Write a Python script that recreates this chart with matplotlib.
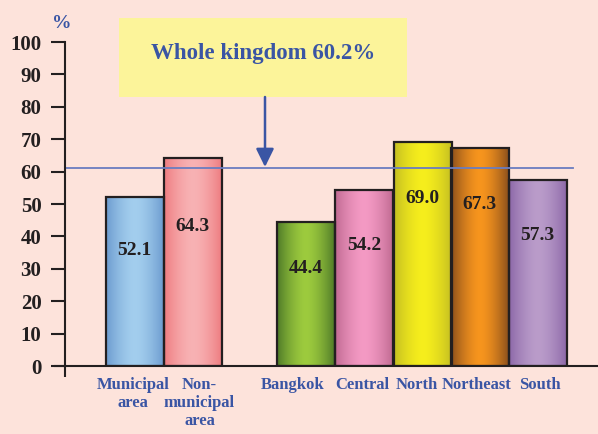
import numpy as np
import matplotlib
matplotlib.use("Agg")
import matplotlib.pyplot as plt
from matplotlib.patches import Rectangle, FancyArrowPatch
from matplotlib.colors import to_rgb

# ---- data ----
categories = ["Municipal\narea", "Non-\nmunicipal\narea", "Bangkok", "Central", "North", "Northeast", "South"]
values = [52.1, 64.3, 44.4, 54.2, 69.0, 67.3, 57.3]
whole_kingdom = 60.2
whole_kingdom_line = 61.2   # where the reference draws the line
y_ticks = [0, 10, 20, 30, 40, 50, 60, 70, 80, 90, 100]

# ---- style ----
positions = [1.2, 2.2, 4.15, 5.16, 6.17, 7.15, 8.15]
label_shift = [-0.03, 0.12, -0.22, -0.03, -0.1, -0.05, 0.03]
label_drop = [16.6, 21.3, 14.2, 16.9, 17.4, 17.6, 16.9]
edge_cols = ["#6C9BCF", "#EE7C80", "#4E7A28", "#C06A92", "#C4BE22", "#8A4E1C", "#8C68A8"]
center_cols = ["#A3CEEE", "#F8B2B4", "#9DCB3E", "#F49AC4", "#F6EE1C", "#F7951E", "#BA9CCA"]
bg = "#FDE3DB"
dark = "#231F20"
blue = "#3A55A4"
serif = ["Liberation Serif", "DejaVu Serif"]

fig = plt.figure(figsize=(5.98, 4.34), dpi=100, facecolor=bg)
ax = fig.add_axes([65/598, 68/434, 533/598, 324/434])
ax.set_facecolor(bg)

w = 1.0
t = np.linspace(0, 1, 200)
prof = 1 - np.abs(2 * t - 1) ** 1.6
for x, v, ec, cc in zip(positions, values, edge_cols, center_cols):
    e = np.array(to_rgb(ec)); c = np.array(to_rgb(cc))
    img = e[None, :] + (c - e)[None, :] * prof[:, None]
    ax.imshow(img[None, :, :], extent=[x - w/2, x + w/2, 0, v], aspect="auto",
              zorder=2, interpolation="bilinear")
    ax.add_patch(Rectangle((x - w/2, 0), w, v, fill=False, ec=dark, lw=1.6, zorder=3))

for x, v, d in zip(positions, values, label_drop):
    ax.text(x, v - d, f"{v:.1f}", ha="center", va="center", fontsize=14,
            fontweight="bold", family=serif, color=dark, zorder=4)

xmax = 533 / 58
ax.set_xlim(0, xmax)
ax.set_ylim(0, 100)

ax.axhline(whole_kingdom_line, xmin=0, xmax=(573-65)/533, color="#6A7DC0", lw=1.3, zorder=5)

for s in ["top", "right"]:
    ax.spines[s].set_visible(False)
ax.spines["left"].set_color(dark)
ax.spines["bottom"].set_color(dark)
ax.spines["left"].set_linewidth(1.5)
ax.spines["bottom"].set_linewidth(1.5)
ax.spines["left"].set_zorder(6)

ax.set_yticks(y_ticks)
ax.set_yticklabels([str(v) for v in y_ticks], fontsize=15, fontweight="bold",
                   family=serif, color=dark)
ax.tick_params(axis="y", length=10, width=1.5, color=dark, pad=7)
ax.set_xticks([0])
ax.set_xticklabels([""])
ax.tick_params(axis="x", length=8, width=1.5, color=dark)
# extend x axis line left of origin
ax.plot([-10/58, 0], [0, 0], color=dark, lw=1.5, clip_on=False, zorder=6)

for x, s, c in zip(positions, label_shift, categories):
    ax.text(x + s, -3.3, c, ha="center", va="top",
            fontsize=12, fontweight="bold", family=serif, color=blue,
            linespacing=1.2, clip_on=False)

# percent sign
fig.text(62/598, 1 - 24/434, "%", ha="center", va="center", fontsize=14,
         fontweight="bold", family=serif, color=blue)

# yellow box
box = Rectangle((119/598, 1 - 97/434), (407-119)/598, (97-18)/434,
                transform=fig.transFigure, facecolor="#FCF49A", edgecolor="none", zorder=1)
fig.patches.append(box)
fig.text(263/598, 1 - 53/434, f"Whole kingdom {whole_kingdom}%", ha="center", va="center",
         fontsize=16.5, fontweight="bold", family=serif, color=blue)

arrow = FancyArrowPatch((265/598, 1 - 97/434), (265/598, 1 - 167/434),
                        transform=fig.transFigure, arrowstyle="-|>,head_length=5.5,head_width=2.7",
                        color=blue, lw=1.8, mutation_scale=2.0, shrinkA=0, shrinkB=0)
fig.patches.append(arrow)

fig.savefig("out.png", dpi=100, facecolor=bg)
